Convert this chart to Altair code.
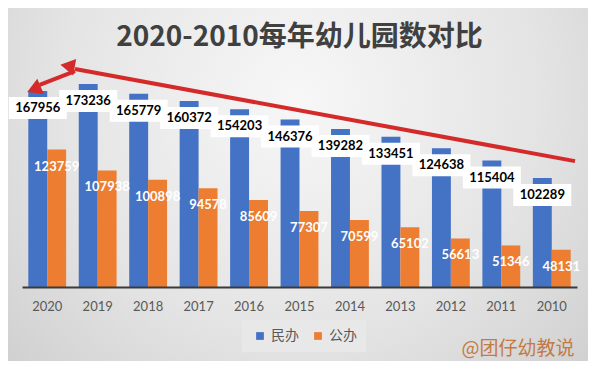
import altair as alt
import pandas as pd

years = ["2020", "2019", "2018", "2017", "2016", "2015", "2014", "2013", "2012", "2011", "2010"]
private = [167956, 173236, 165779, 160372, 154203, 146376, 139282, 133451, 124638, 115404, 102289]
public = [123759, 107938, 100898, 94578, 85609, 77307, 70599, 65102, 56613, 51346, 48131]
series = ["民办", "公办"]
colors = ["#4472C4", "#ED7D31"]

# trend arrow (x as year index from 2020 = 0, y in kindergarten counts)
arrow_idx = [10.46, 0.55]
arrow_val = [115000, 184500]
arrow2_idx = [0.55, -0.15]
arrow2_val = [183000, 172500]
head_idx = [0.45, -0.22]
head_val = [186500, 170000]
head_angle = [280, 247]

W, H = 555, 212
PL, PT = 14, 67

rows = []
for y, a, b in zip(years, private, public):
    rows.append({"year": y, "type": series[0], "value": a})
    rows.append({"year": y, "type": series[1], "value": b})
df = pd.DataFrame(rows)

arrow_df = pd.DataFrame({"i": arrow_idx, "v": arrow_val})
arrow2_df = pd.DataFrame({"i": arrow2_idx, "v": arrow2_val})
head_df = pd.DataFrame({"i": head_idx, "v": head_val, "ang": head_angle})

yscale = alt.Scale(domain=[20000, 180000], nice=False, zero=False)
xscale = alt.Scale(paddingInner=0.25, paddingOuter=0.125)

bg = alt.Chart(pd.DataFrame({"a": [0]})).mark_rect(
    fill=alt.RadialGradient(
        gradient="radial",
        stops=[alt.GradientStop(color="#f7f7f7", offset=0),
               alt.GradientStop(color="#e4e4e4", offset=0.55),
               alt.GradientStop(color="#cbcbcb", offset=1)],
        x1=0.5, y1=0.35, r1=0, x2=0.5, y2=0.35, r2=0.75),
    clip=False,
).encode(x=alt.value(-PL), x2=alt.value(W + 11), y=alt.value(-PT), y2=alt.value(H + 74))

xaxis = alt.Axis(title=None, labelAngle=0, ticks=False, labelFontSize=13,
                 labelColor="#595959", labelFont="Lato", labelPadding=13,
                 domainColor="#3a3a3a", domainWidth=2, zindex=1)

base = alt.Chart(df).encode(
    x=alt.X("year:N", sort=years, scale=xscale, axis=xaxis),
    xOffset=alt.XOffset("type:N", sort=series),
    y=alt.Y("value:Q", scale=yscale,
            axis=alt.Axis(title=None, labels=False, ticks=False, domain=False,
                          values=list(range(20000, 180001, 20000)),
                          gridColor="#c4c4c4", gridWidth=1)),
)

bars = base.mark_bar().encode(
    y2=alt.datum(20000),
    color=alt.Color("type:N", sort=series, scale=alt.Scale(domain=series, range=colors),
                    legend=alt.Legend(title=None, orient="none", legendX=220, legendY=245,
                                      direction="horizontal", fillColor="#e8e8e8",
                                      padding=9, symbolType="square", symbolSize=60,
                                      labelFontSize=14, labelColor="#595959",
                                      labelFont="Noto Sans CJK SC", columnPadding=10,
                                      symbolOffset=2)),
)

nox = alt.X("year:N", sort=years, scale=xscale, axis=None)

box = base.transform_filter(alt.datum.type == series[0]).mark_point(
    shape="M-1,-0.38L1,-0.38L1,0.38L-1,0.38Z", size=3364, filled=True,
    fill="white", opacity=1, strokeWidth=0, yOffset=17,
).encode(x=nox)

lab_priv = base.transform_filter(alt.datum.type == series[0]).mark_text(
    fontSize=13, fontWeight="bold", font="Lato", color="black", dy=17, baseline="middle",
).encode(x=nox, text="value:Q")

lab_pub = base.transform_filter(alt.datum.type == series[1]).mark_text(
    fontSize=13, fontWeight="bold", font="Lato", color="white", dy=17, baseline="middle",
).encode(x=nox, text="value:Q")

ax = alt.X("i:Q", scale=alt.Scale(domain=[-0.5, 10.5], nice=False, zero=False), axis=None)
ay = alt.Y("v:Q", scale=yscale)

arrow1 = alt.Chart(arrow_df).mark_line(color="#d42a2a", strokeWidth=4, clip=False).encode(x=ax, y=ay)
arrow2 = alt.Chart(arrow2_df).mark_line(color="#d42a2a", strokeWidth=4, clip=False).encode(x=ax, y=ay)
heads = alt.Chart(head_df).mark_point(shape="triangle", filled=True, color="#d42a2a",
                                      size=280, opacity=1, clip=False).encode(
    x=ax, y=ay, angle=alt.Angle("ang:Q", scale=None))

title = alt.Chart(pd.DataFrame({"t": ["2020-2010每年幼儿园数对比"]})).mark_text(
    font="Noto Sans CJK SC", fontSize=28, fontWeight="bold", color="#404040",
    align="center", baseline="middle",
).encode(text="t:N", x=alt.value(W / 2), y=alt.value(-37))

mark = alt.Chart(pd.DataFrame({"t": ["@团仔幼教说"]})).mark_text(
    font="Noto Sans CJK SC", fontSize=19, color="#c47a45", align="center", baseline="middle",
).encode(text="t:N", x=alt.value(496), y=alt.value(274))

chart = alt.layer(bg, bars, box, lab_priv, lab_pub, arrow1, arrow2, heads, title, mark).resolve_scale(
    x="independent"
).properties(
    width=W, height=H, background="#d4d4d4",
    padding={"left": PL, "top": PT, "right": 11, "bottom": 74},
    autosize=alt.AutoSizeParams(type="none"),
).configure_view(stroke=None)

chart.save("out.html", embed_options={"renderer": "svg", "actions": False})
